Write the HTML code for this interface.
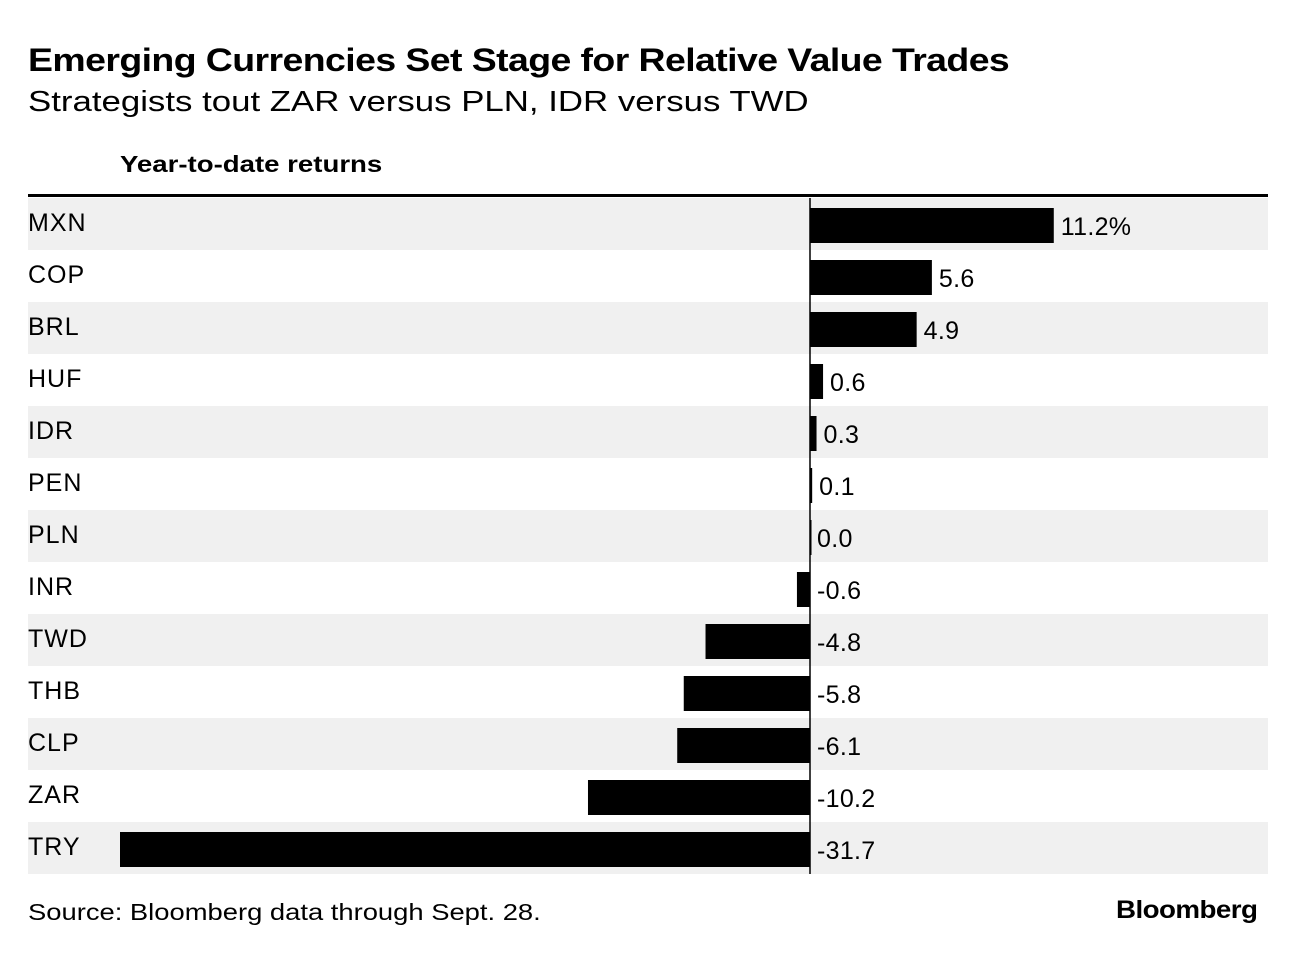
<!DOCTYPE html>
<html><head><meta charset="utf-8"><style>
body{margin:0;width:1296px;height:954px;background:#fff;font-family:"Liberation Sans",sans-serif;color:#000;overflow:hidden;position:relative}
.t{position:absolute;white-space:nowrap;transform-origin:left top}
</style></head><body>
<div class="t" style="left:28px;top:42px;font-size:32px;font-weight:bold;letter-spacing:-0.5px;transform:scaleX(1.17)">Emerging Currencies Set Stage for Relative Value Trades</div>
<div class="t" style="left:28px;top:86px;font-size:29px;transform:scaleX(1.2)">Strategists tout ZAR versus PLN, IDR versus TWD</div>
<div class="t" style="left:120px;top:151px;font-size:23px;font-weight:bold;transform:scaleX(1.2)">Year-to-date returns</div>
<svg id="chart" width="1296" height="954" style="position:absolute;left:0;top:0"></svg>
<div class="t" style="left:28px;top:899px;font-size:23px;transform:scaleX(1.19)">Source: Bloomberg data through Sept. 28.</div>
<div class="t" style="right:39px;top:896px;font-size:25px;font-weight:bold;letter-spacing:-0.5px;transform-origin:right top;transform:scaleX(1.11)">Bloomberg</div>
<script>
const categories=["MXN","COP","BRL","HUF","IDR","PEN","PLN","INR","TWD","THB","CLP","ZAR","TRY"];
const values=[11.2,5.6,4.9,0.6,0.3,0.1,0.0,-0.6,-4.8,-5.8,-6.1,-10.2,-31.7];
const valueLabels=["11.2%","5.6","4.9","0.6","0.3","0.1","0.0","-0.6","-4.8","-5.8","-6.1","-10.2","-31.7"];
const svg=document.getElementById('chart');
const NS="http://www.w3.org/2000/svg";
const x0=810, scale=690/31.7, top0=198, rowH=52;
const x=v=>x0+v*scale;
function mk(tag,attrs){const e=document.createElementNS(NS,tag);for(const k in attrs)e.setAttribute(k,attrs[k]);svg.appendChild(e);return e;}
categories.forEach((c,i)=>{
  const y=top0+i*rowH;
  if(i%2===0){const bg=mk('rect',{x:28,y:y,width:1240,height:rowH,fill:'#f0f0f0'});
  
  }
  const lab=mk('text',{x:28,y:y+33,'font-size':25,'font-family':'Liberation Sans, sans-serif','letter-spacing':'1'});lab.textContent=c;
  
  
  const v=values[i];const xa=Math.min(x(v),x0),xb=Math.max(x(v),x0);
  const b=mk('rect',{x:xa,y:y+10,width:Math.max(xb-xa,1.5),height:35,fill:'#000'});
  
  
  const tx=(v>0?x(v):x0)+7;
  const vl=mk('text',{x:tx,y:y+37,'font-size':25,'font-family':'Liberation Sans, sans-serif','letter-spacing':'0.3'});vl.textContent=valueLabels[i];
  
  
});
const zl=mk('line',{x1:x0,x2:x0,y1:top0,y2:top0+13*rowH,stroke:'#000','stroke-width':1.5});


const tl=mk('rect',{x:28,y:194,width:1240,height:3,fill:'#000'});


</script>
</body></html>
